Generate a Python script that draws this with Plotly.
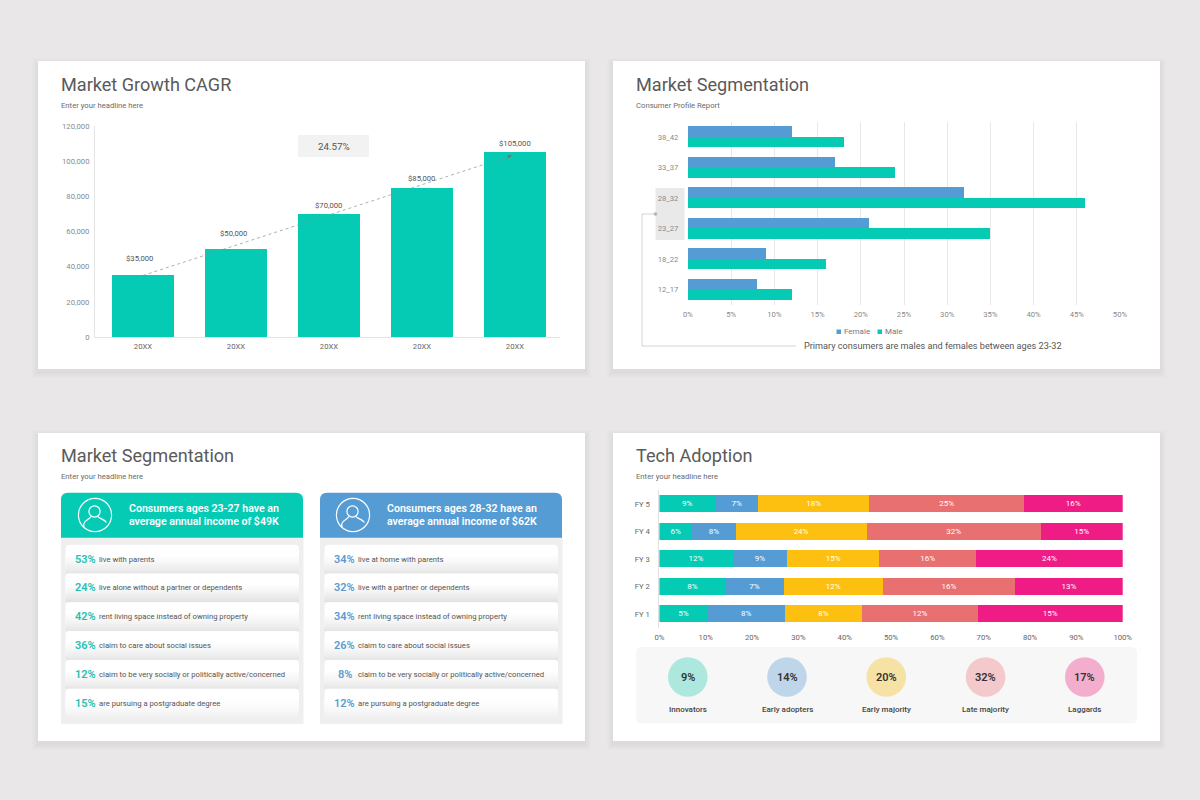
import plotly.graph_objects as go

# ---------- data ----------
growth_years = ["20XX", "20XX", "20XX", "20XX", "20XX"]
growth_values = [35000, 50000, 70000, 85000, 105000]
growth_labels = ["$35,000", "$50,000", "$70,000", "$85,000", "$105,000"]
cagr_label = "24.57%"
trend_x = [0, 3.98]
trend_y = [35000, 103500]

age_groups = ["38_42", "33_37", "28_32", "23_27", "18_22", "12_17"]
female_share = [12, 17, 32, 21, 9, 8]
male_share = [18, 24, 46, 35, 16, 12]

fiscal_years = ["FY 5", "FY 4", "FY 3", "FY 2", "FY 1"]
innovators = [9, 6, 12, 8, 5]
early_adopters = [7, 8, 9, 7, 8]
early_majority = [18, 24, 15, 12, 8]
late_majority = [25, 32, 16, 16, 12]
laggards = [16, 15, 24, 13, 15]

adoption_names = ["Innovators", "Early adopters", "Early majority", "Late majority", "Laggards"]
adoption_pct = ["9%", "14%", "20%", "32%", "17%"]

income_heads = [["Consumers ages 23-27 have an", "average annual income of $49K"],
                ["Consumers ages 28-32 have an", "average annual income of $62K"]]
pct_left = ["53%", "24%", "42%", "36%", "12%", "15%"]
txt_left = ["live with parents", "live alone without a partner or dependents",
            "rent living space instead of owning property", "claim to care about social issues",
            "claim to be very socially or politically active/concerned", "are pursuing a postgraduate degree"]
pct_right = ["34%", "32%", "34%", "26%", "8%", "12%"]
txt_right = ["live at home with parents", "live with a partner or dependents",
             "rent living space instead of owning property", "claim to care about social issues",
             "claim to be very socially or politically active/concerned", "are pursuing a postgraduate degree"]

# ---------- style ----------
W, H = 1200, 800
FONT = "Roboto"
TEAL, BLUE, YELLOW, SALMON, PINK = "#05cbb5", "#559cd5", "#fdc010", "#e87070", "#ee1c84"
CIRCLES = ["#ace8de", "#bfd5ea", "#f7e2a5", "#f3c9cb", "#f3aece"]
shapes, annos = [], []


def px(x):
    return x / W


def py(y):
    return 1 - y / H


def rect(x0, y0, x1, y1, fill, layer="below"):
    shapes.append(dict(type="rect", xref="paper", yref="paper", x0=px(x0), x1=px(x1), y0=py(y0), y1=py(y1),
                       fillcolor=fill, line=dict(width=0), layer=layer))


def path(d, fill=None, line=None, lw=1, layer="below"):
    s = []
    for t in d:
        if isinstance(t, str):
            s.append(t)
        else:
            s.append(f"{px(t[0]):.5f},{py(t[1]):.5f}")
    sh = dict(type="path", xref="paper", yref="paper", path=" ".join(s), layer=layer,
              line=dict(width=lw if line else 0, color=line or "rgba(0,0,0,0)"))
    if fill:
        sh["fillcolor"] = fill
    shapes.append(sh)


def rrect(x0, y0, x1, y1, r, fill, bottom=True, layer="below"):
    rb = r if bottom else 0
    path(["M", (x0 + r, y0), "L", (x1 - r, y0), "Q", (x1, y0), (x1 - 0, y0 + r), "L", (x1, y1 - rb),
          "Q", (x1, y1), (x1 - rb, y1), "L", (x0 + rb, y1), "Q", (x0, y1), (x0, y1 - rb), "L", (x0, y0 + r),
          "Q", (x0, y0), (x0 + r, y0), "Z"], fill=fill, layer=layer)


def circle(cx, cy, r, fill=None, line=None, lw=1, layer="below"):
    sh = dict(type="circle", xref="paper", yref="paper", x0=px(cx - r), x1=px(cx + r), y0=py(cy - r), y1=py(cy + r),
              layer=layer, line=dict(width=lw if line else 0, color=line or "rgba(0,0,0,0)"))
    if fill:
        sh["fillcolor"] = fill
    shapes.append(sh)


def text(x, y, s, size, color, anchor="left", weight=400):
    annos.append(dict(xref="paper", yref="paper", x=px(x), y=py(y), text=s, showarrow=False, xanchor=anchor,
                      yanchor="middle", borderpad=0, font=dict(family=FONT, size=size, color=color, weight=weight)))


# ---------- page cards ----------
CARDS = [(38, 61), (613, 61), (38, 433), (613, 433)]
for cx, cy in CARDS:
    for i in range(6, 0, -1):
        rect(cx - i, cy - i + 3, cx + 547 + i, cy + 308 + i + 3, "rgba(0,0,0,0.006)")
    rect(cx, cy, cx + 547, cy + 308, "#ffffff")

for (cx, cy), t, sub, dy in zip(CARDS,
                                ["Market Growth CAGR", "Market Segmentation", "Market Segmentation", "Tech Adoption"],
                                ["Enter your headline here", "Consumer Profile Report", "Enter your headline here",
                                 "Enter your headline here"],
                                [-0.7, -0.7, -2, -2]):
    text(cx + 22, cy + 24.5 + dy, t, 18.1, "#5a5a5a")
    text(cx + 22, cy + 45 + dy, sub, 7.7, "#6a6a6a")

fig = go.Figure()

# ---------- chart 1 ----------
x_idx = list(range(len(growth_values)))
fig.add_trace(go.Bar(x=x_idx, y=growth_values, width=0.667, marker=dict(color=TEAL, line=dict(width=0)),
                     xaxis="x", yaxis="y", showlegend=False, hoverinfo="skip"))
fig.add_trace(go.Scatter(x=trend_x, y=trend_y, mode="lines+markers", xaxis="x", yaxis="y", showlegend=False,
                         line=dict(color="#83938f", width=0.7, dash="dot"), hoverinfo="skip",
                         marker=dict(size=[0, 6], symbol="arrow", angleref="previous", color="#4a5a58")))
LABEL_SHIFT_X = [-3, -2, 0, 0, 0]
LABEL_SHIFT_Y = [16.8, 15.3, 8.6, 8.6, 8.4]
for i, lab in enumerate(growth_labels):
    annos.append(dict(xref="x", yref="y", x=x_idx[i], y=growth_values[i], text=lab, showarrow=False,
                      xshift=LABEL_SHIFT_X[i], yshift=LABEL_SHIFT_Y[i], yanchor="middle",
                      font=dict(family=FONT, size=7.7, color="#555555")))
rect(298, 135, 369, 157, "#f2f2f2")
text(333.5, 146, cagr_label, 9.8, "#555555", "center")

# ---------- chart 2 ----------
fig.add_trace(go.Bar(y=age_groups, x=female_share, orientation="h", base=0, width=0.345, offset=-0.345,
                     marker=dict(color=BLUE, line=dict(width=0)), xaxis="x2", yaxis="y2", showlegend=False,
                     hoverinfo="skip"))
fig.add_trace(go.Bar(y=age_groups, x=male_share, orientation="h", base=0, width=0.345, offset=0,
                     marker=dict(color=TEAL, line=dict(width=0)), xaxis="x2", yaxis="y2", showlegend=False,
                     hoverinfo="skip"))
rect(655.5, 188, 684.5, 240, "#e9e9e9")
path(["M", (655.5, 214), "L", (642, 214), "L", (642, 346), "L", (796, 346)], line="#d4d4d4", lw=1)
circle(655.5, 214, 1.8, fill="#b5b5b5")
text(802.5, 346, "Primary consumers are males and females between ages 23-32", 9.15, "#555555")
rect(836.5, 329.5, 841, 334, BLUE)
text(843, 331.5, "Female", 8, "#777777")
rect(877.5, 329.5, 882, 334, TEAL)
text(883.5, 331.5, "Male", 8, "#777777")

# ---------- chart 3 (panel 4) ----------
series = [innovators, early_adopters, early_majority, late_majority, laggards]
totals = [sum(s[i] for s in series) for i in range(len(fiscal_years))]
for s, col in zip(series, [TEAL, BLUE, YELLOW, SALMON, PINK]):
    fig.add_trace(go.Bar(y=fiscal_years, x=[v / t * 100 for v, t in zip(s, totals)], orientation="h",
                         text=[f"{v}%" for v in s], textposition="inside", insidetextanchor="middle",
                         textangle=0, constraintext="none",
                         textfont=dict(family=FONT, size=8, color="#ffffff"),
                         marker=dict(color=col, line=dict(width=0)), xaxis="x3", yaxis="y3", showlegend=False,
                         hoverinfo="skip"))

rrect(636, 647, 1137, 723.5, 6, "#f7f7f7")
for cxp, col, pct, nm in zip([687.8, 787, 886.3, 985.6, 1084.8], CIRCLES, adoption_pct, adoption_names):
    circle(cxp, 677, 19.8, fill=col)
    text(cxp, 677, pct, 11, "#333333", "center", 600)
    text(cxp, 709, nm, 8, "#444444", "center", 500)

# ---------- income panels ----------
for off, col, head, pcts, txts, pct_col in [(0, TEAL, income_heads[0], pct_left, txt_left, "#25c1b1"),
                                            (259, BLUE, income_heads[1], pct_right, txt_right, "#5b9bd0")]:
    rect(61 + off, 537, 303.5 + off, 724, "#efefef")
    rrect(61 + off, 492.7, 303 + off, 537.7, 7, col, bottom=False)
    for i, (p, t) in enumerate(zip(pcts, txts)):
        top = 544.7 + i * 28.8
        rrect(65.5 + off, top, 299 + off, top + 27.5, 4, "#ffffff")
        end_v = 239 if i == len(pcts) - 1 else 226
        for k in range(18):
            v = int(255 - (255 - end_v) * ((k + 1) / 18) ** 1.3)
            rect(65.5 + off, top + 10.5 + k, 299 + off, top + 11.5 + k, f"rgb({v},{v},{v})")
        text(85.5 + off, top + 14.3, p, 11, pct_col, "center", 600)
        text(98 + off, top + 14.3, t, 7.7, "#555555")
    ox = off - (1 if off else 0)
    cx0 = 95 + ox
    circle(cx0, 515, 16.6, line="#ffffff", lw=1.2)
    circle(cx0 - 0.5, 511.5, 5.6, line="#ffffff", lw=1.2)
    path(["M", (cx0 - 11, 527), "C", (cx0 - 13, 521), (cx0 - 6, 520), (cx0 - 4, 516.5)], line="#ffffff", lw=1.2)
    path(["M", (cx0 + 3, 516.5), "C", (cx0 + 5, 519), (cx0 + 9, 519), (cx0 + 11.5, 522.5)], line="#ffffff", lw=1.2)
    text(127.5 + ox, 508.5, head[0], 10.6, "#ffffff", "left", 600)
    text(127.5 + ox, 521.8, head[1], 10.6, "#ffffff", "left", 600)

# ---------- layout ----------
tick = lambda c, s=7.7: dict(family=FONT, size=s, color=c)
fig.update_layout(
    width=W, height=H, margin=dict(l=0, r=0, t=0, b=0, pad=0, autoexpand=False),
    paper_bgcolor="#e9e7e8", plot_bgcolor="rgba(0,0,0,0)",
    barmode="stack", showlegend=False, shapes=shapes, annotations=annos,
    xaxis=dict(domain=[px(95), px(560)], range=[-0.516, 4.484], tickmode="array", tickvals=x_idx,
               ticktext=growth_years, showgrid=False, zeroline=False, showline=True, linecolor="#e4e4e4", linewidth=1,
               ticks="outside", ticklen=2, tickcolor="rgba(0,0,0,0)", tickfont=tick("#666666"), anchor="y",
               fixedrange=True),
    yaxis=dict(domain=[py(337), py(126)], range=[0, 120000], dtick=20000, tickformat=",", showgrid=False,
               zeroline=False, showline=True, linecolor="#e4e4e4", linewidth=1, ticks="outside", ticklen=3,
               tickcolor="rgba(0,0,0,0)", tickfont=tick("#8a8a8a"), anchor="x", fixedrange=True),
    xaxis2=dict(domain=[px(688), px(1120)], range=[0, 50], dtick=5, ticksuffix="%", showgrid=True, gridcolor="#e8e8e8",
                gridwidth=1, zeroline=False, showline=False, ticks="outside", ticklen=2, tickcolor="rgba(0,0,0,0)",
                tickfont=tick("#8a8a8a"), anchor="y2", fixedrange=True),
    yaxis2=dict(domain=[py(304.6), py(121.6)], type="category", categoryorder="array", categoryarray=age_groups,
                autorange="reversed", showgrid=False, zeroline=False, showline=False, ticks="outside", ticklen=7,
                tickcolor="rgba(0,0,0,0)", tickfont=tick("#8a8a8a"), anchor="x2", fixedrange=True),
    xaxis3=dict(domain=[px(659.4), px(1122.7)], range=[0, 100], dtick=10, ticksuffix="%", showgrid=False,
                zeroline=False, showline=False, ticks="outside", ticklen=2, tickcolor="rgba(0,0,0,0)",
                tickfont=tick("#666666"), anchor="y3", fixedrange=True),
    yaxis3=dict(domain=[py(627.7), py(490.2)], type="category", categoryorder="array", categoryarray=fiscal_years,
                autorange="reversed", showgrid=False, zeroline=False, showline=True, linecolor="#e0e0e0", linewidth=1,
                ticks="outside", ticklen=7, tickcolor="rgba(0,0,0,0)", tickfont=tick("#666666"), anchor="x3",
                fixedrange=True),
    bargap=0.38,
)

fig.write_html("out.html", config={"displayModeBar": False},
               post_script="document.body.style.margin='0';document.body.style.overflow='hidden';")
